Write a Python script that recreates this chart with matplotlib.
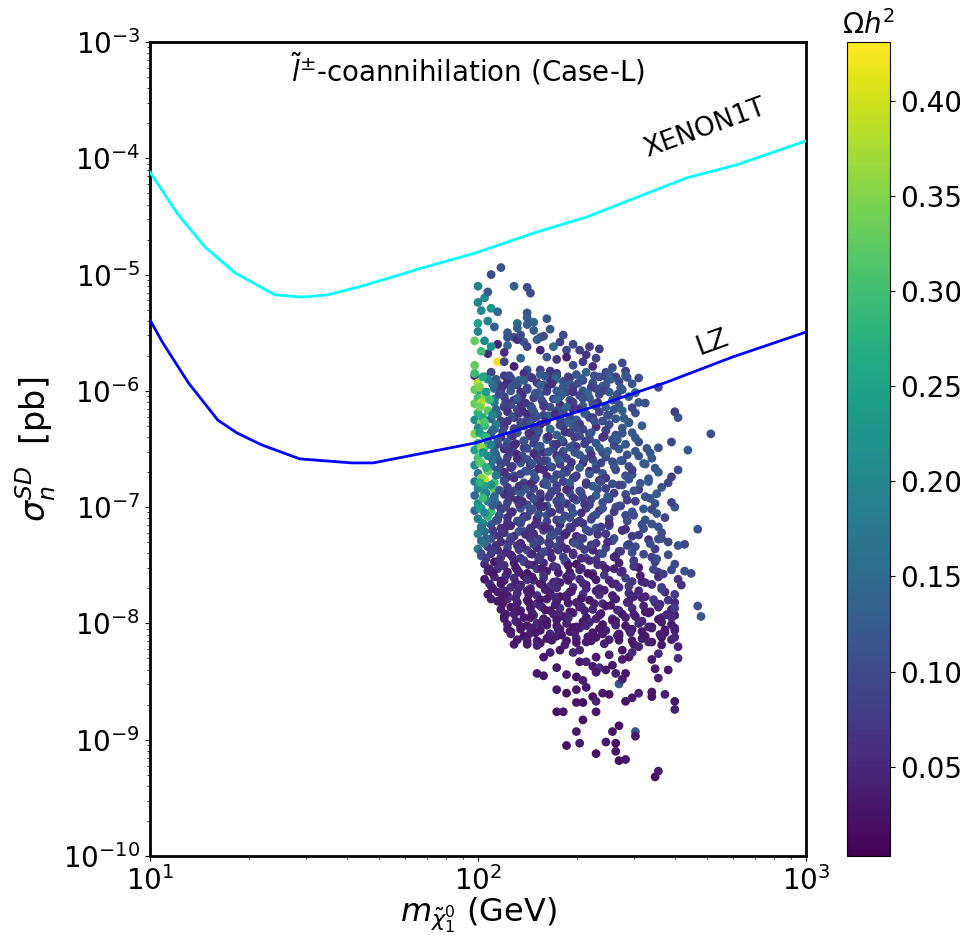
import numpy as np
import matplotlib
matplotlib.use("Agg")
import matplotlib.pyplot as plt
from matplotlib.colors import Normalize

# --- exclusion limits: mass [GeV], sigma_SD [pb] ---
xenon_mass = [10, 12.2, 14.7, 18.2, 24.0, 29.0, 34.9, 43.1, 54.7, 67.5,
              98, 151, 215, 318, 434, 616, 1000]
xenon_sigma = [7.6e-5, 3.25e-5, 1.73e-5, 1.03e-5, 6.7e-6, 6.4e-6, 6.7e-6,
               7.8e-6, 9.5e-6, 1.14e-5, 1.53e-5, 2.32e-5, 3.13e-5, 4.83e-5,
               6.8e-5, 8.8e-5, 1.41e-4]
lz_mass = [10, 10.9, 13.1, 16.1, 18.4, 21.9, 28.6, 41.3, 47.9, 98, 236,
           377, 599, 1000]
lz_sigma = [4.07e-6, 2.63e-6, 1.17e-6, 5.6e-7, 4.35e-7, 3.43e-7, 2.6e-7,
            2.4e-7, 2.4e-7, 3.56e-7, 7.6e-7, 1.19e-6, 1.96e-6, 3.2e-6]

# --- scan points, stored as log10(mass/GeV), log10(sigma/pb), Omega h^2 ---
# sparse upper part of the cloud
top_logm = [2.07, 2.04, 2.00, 2.11, 2.15, 2.16, 2.00, 2.02, 2.01, 2.04,
            2.15, 2.15, 2.12, 2.17, 2.21, 2.05, 2.00, 2.12, 2.15, 2.22,
            2.26, 2.19, 2.11, 1.99, 2.02, 2.06, 2.09, 2.14, 2.18, 2.23,
            2.31, 2.34, 2.37, 2.27, 2.03, 2.06, 1.99, 1.99, 2.44, 2.49,
            2.42, 2.39, 2.09, 2.12, 2.15, 2.19, 2.21, 2.24, 2.27, 2.29,
            2.32, 2.35, 2.39, 2.24, 2.19, 2.15, 2.11, 2.08, 2.13, 2.03,
            2.06, 2.09, 2.13, 2.17, 2.20, 2.25, 2.29, 2.33, 2.36, 2.41,
            2.45, 2.01, 2.04, 2.08, 2.00, 2.03]
top_logs = [-4.94, -5.00, -5.10, -5.10, -5.11, -5.16, -5.24, -5.20, -5.31, -5.29,
            -5.33, -5.37, -5.42, -5.41, -5.38, -5.45, -5.49, -5.46, -5.43, -5.47,
            -5.52, -5.54, -5.54, -5.57, -5.57, -5.60, -5.61, -5.58, -5.56, -5.62,
            -5.65, -5.62, -5.64, -5.65, -5.68, -5.75, -5.78, -5.87, -5.76, -5.89,
            -5.88, -5.88, -5.54, -5.56, -5.62, -5.65, -5.71, -5.73, -5.71, -5.78,
            -5.75, -5.79, -5.84, -5.85, -5.82, -5.82, -5.79, -5.75, -5.72, -5.40,
            -5.32, -5.50, -5.52, -5.48, -5.53, -5.58, -5.60, -5.69, -5.72, -5.80,
            -5.83, -5.66, -5.62, -5.67, -5.42, -5.15]
top_omega = [0.12, 0.10, 0.18, 0.13, 0.10, 0.10, 0.20, 0.21, 0.20, 0.22,
             0.12, 0.13, 0.16, 0.14, 0.12, 0.13, 0.20, 0.13, 0.13, 0.12,
             0.10, 0.14, 0.10, 0.33, 0.20, 0.05, 0.15, 0.12, 0.13, 0.15,
             0.08, 0.08, 0.08, 0.10, 0.05, 0.42, 0.33, 0.04, 0.10, 0.10,
             0.08, 0.10, 0.11, 0.06, 0.09, 0.05, 0.12, 0.07, 0.04, 0.10,
             0.08, 0.06, 0.09, 0.05, 0.08, 0.11, 0.04, 0.09, 0.14, 0.20,
             0.15, 0.12, 0.10, 0.13, 0.10, 0.09, 0.10, 0.07, 0.09, 0.10,
             0.08, 0.30, 0.22, 0.06, 0.25, 0.12]

# dense body of the cloud (main rows)
core_logm = [
    1.99, 2.02, 2.04, 2.08, 2.10, 2.14, 2.16, 2.19, 2.22, 2.24, 2.28, 2.30, 2.33, 2.37, 2.40, 2.45,
    2.00, 2.03, 2.06, 2.09, 2.12, 2.14, 2.18, 2.20, 2.22, 2.26, 2.28, 2.32, 2.35, 2.38, 2.43, 2.47,
    1.99, 2.01, 2.05, 2.07, 2.10, 2.13, 2.15, 2.18, 2.21, 2.24, 2.27, 2.29, 2.32, 2.36, 2.40, 2.44,
    2.00, 2.02, 2.05, 2.08, 2.11, 2.13, 2.17, 2.19, 2.23, 2.25, 2.28, 2.31, 2.34, 2.37, 2.42, 2.46,
    1.99, 2.01, 2.05, 2.08, 2.10, 2.13, 2.16, 2.20, 2.22, 2.25, 2.29, 2.32, 2.35, 2.39, 2.43, 2.49,
    2.00, 2.03, 2.06, 2.09, 2.12, 2.15, 2.17, 2.20, 2.24, 2.26, 2.29, 2.33, 2.37, 2.40, 2.44, 2.48,
    1.99, 2.01, 2.04, 2.07, 2.11, 2.13, 2.15, 2.18, 2.21, 2.25, 2.27, 2.30, 2.34, 2.38, 2.42, 2.46,
    2.00, 2.02, 2.05, 2.08, 2.11, 2.14, 2.17, 2.19, 2.22, 2.26, 2.29, 2.32, 2.36, 2.39, 2.44, 2.50,
    1.99, 2.02, 2.04, 2.07, 2.10, 2.12, 2.16, 2.18, 2.21, 2.24, 2.28, 2.31, 2.34, 2.38, 2.42, 2.47,
    2.00, 2.03, 2.06, 2.09, 2.11, 2.14, 2.17, 2.21, 2.23, 2.26, 2.29, 2.33, 2.36, 2.41, 2.45, 2.49,
    1.99, 2.02, 2.05, 2.08, 2.11, 2.14, 2.18, 2.20, 2.23, 2.26, 2.30, 2.34, 2.38, 2.43, 2.48, 2.55,
    2.00, 2.03, 2.06, 2.09, 2.12, 2.15, 2.18, 2.21, 2.24, 2.27, 2.31, 2.35, 2.39, 2.44, 2.49, 2.53,
    1.99, 2.01, 2.04, 2.07, 2.10, 2.13, 2.16, 2.19, 2.22, 2.25, 2.28, 2.32, 2.36, 2.41, 2.46, 2.51,
    2.00, 2.03, 2.06, 2.08, 2.11, 2.15, 2.17, 2.20, 2.24, 2.27, 2.30, 2.34, 2.38, 2.42, 2.47, 2.55,
    1.99, 2.02, 2.05, 2.08, 2.11, 2.14, 2.17, 2.20, 2.23, 2.26, 2.29, 2.33, 2.37, 2.41, 2.46, 2.52,
    2.00, 2.02, 2.05, 2.09, 2.11, 2.14, 2.17, 2.21, 2.24, 2.28, 2.31, 2.35, 2.39, 2.44, 2.49, 2.56,
    1.99, 2.02, 2.05, 2.08, 2.10, 2.13, 2.16, 2.19, 2.22, 2.25, 2.28, 2.32, 2.36, 2.40, 2.45, 2.51,
    2.00, 2.03, 2.06, 2.09, 2.12, 2.15, 2.18, 2.21, 2.24, 2.27, 2.30, 2.34, 2.38, 2.43, 2.48, 2.54,
    1.99, 2.01, 2.04, 2.07, 2.10, 2.13, 2.16, 2.19, 2.22, 2.25, 2.29, 2.33, 2.37, 2.42, 2.47, 2.53,
    2.00, 2.03, 2.06, 2.09, 2.12, 2.15, 2.18, 2.21, 2.24, 2.28, 2.31, 2.35, 2.40, 2.45, 2.51, 2.57,
    2.01, 2.04, 2.07, 2.10, 2.13, 2.16, 2.19, 2.22, 2.25, 2.28, 2.32, 2.36, 2.40, 2.45, 2.50, 2.55,
    2.00, 2.02, 2.05, 2.08, 2.11, 2.14, 2.17, 2.20, 2.23, 2.27, 2.30, 2.34, 2.39, 2.44, 2.49, 2.56,
    2.01, 2.04, 2.07, 2.10, 2.13, 2.16, 2.19, 2.22, 2.25, 2.29, 2.32, 2.36, 2.41, 2.46, 2.52, 2.58,
    2.00, 2.03, 2.06, 2.09, 2.12, 2.15, 2.18, 2.21, 2.24, 2.27, 2.31, 2.35, 2.39, 2.43, 2.48, 2.54,
    2.01, 2.04, 2.07, 2.10, 2.13, 2.16, 2.19, 2.22, 2.26, 2.29, 2.33, 2.37, 2.42, 2.47, 2.53, 2.58,
    2.02, 2.05, 2.08, 2.11, 2.14, 2.17, 2.20, 2.23, 2.27, 2.30, 2.34, 2.38, 2.43, 2.48, 2.54, 2.60,
    2.03, 2.06, 2.09, 2.12, 2.15, 2.18, 2.21, 2.24, 2.28, 2.31, 2.35, 2.39, 2.44, 2.49, 2.55, 2.59,
    2.02, 2.05, 2.08, 2.11, 2.14, 2.17, 2.20, 2.24, 2.27, 2.31, 2.35, 2.40, 2.45, 2.50, 2.55, 2.61,
    2.04, 2.07, 2.10, 2.13, 2.16, 2.19, 2.22, 2.25, 2.29, 2.33, 2.37, 2.41, 2.46, 2.51, 2.56, 2.62,
    2.03, 2.06, 2.09, 2.12, 2.15, 2.18, 2.22, 2.25, 2.28, 2.32, 2.36, 2.41, 2.46, 2.51, 2.57, 2.60,
    2.06, 2.09, 2.12, 2.15, 2.18, 2.21, 2.24, 2.27, 2.30, 2.34, 2.38, 2.42, 2.46, 2.50, 2.54, 2.58,
    2.07, 2.10, 2.13, 2.16, 2.19, 2.22, 2.25, 2.28, 2.31, 2.35, 2.39, 2.43, 2.47, 2.51, 2.55, 2.59,
    2.08, 2.11, 2.14, 2.17, 2.20, 2.23, 2.26, 2.29, 2.33, 2.37, 2.41, 2.44, 2.48, 2.52, 2.56, 2.60,
    2.09, 2.12, 2.15, 2.18, 2.21, 2.24, 2.27, 2.30, 2.34, 2.38, 2.42, 2.45, 2.49, 2.53, 2.56, 2.59,
    2.10, 2.13, 2.16, 2.19, 2.22, 2.25, 2.28, 2.31, 2.35, 2.39, 2.43, 2.46, 2.50, 2.53, 2.57, 2.60,
    2.12, 2.15, 2.18, 2.21, 2.24, 2.27, 2.30, 2.33, 2.36, 2.40, 2.43, 2.47, 2.50, 2.53, 2.56, 2.59,
]
core_logs = [
    -5.85, -5.88, -5.84, -5.87, -5.89, -5.85, -5.88, -5.86, -5.83, -5.87, -5.89, -5.86, -5.84, -5.88, -5.85, -5.87,
    -5.93, -5.90, -5.94, -5.92, -5.95, -5.91, -5.93, -5.95, -5.90, -5.92, -5.94, -5.91, -5.93, -5.96, -5.92, -5.94,
    -5.99, -6.02, -5.98, -6.00, -5.97, -6.01, -5.99, -6.02, -5.98, -6.00, -6.01, -5.97, -6.00, -5.98, -6.01, -5.99,
    -6.06, -6.04, -6.07, -6.05, -6.08, -6.04, -6.06, -6.03, -6.07, -6.05, -6.08, -6.04, -6.06, -6.03, -6.07, -6.05,
    -6.11, -6.13, -6.10, -6.14, -6.12, -6.10, -6.13, -6.11, -6.14, -6.12, -6.10, -6.13, -6.11, -6.14, -6.12, -6.10,
    -6.19, -6.17, -6.20, -6.18, -6.16, -6.20, -6.18, -6.21, -6.17, -6.19, -6.16, -6.20, -6.18, -6.21, -6.17, -6.19,
    -6.25, -6.27, -6.24, -6.26, -6.23, -6.27, -6.25, -6.22, -6.26, -6.24, -6.27, -6.25, -6.23, -6.26, -6.24, -6.27,
    -6.32, -6.30, -6.33, -6.31, -6.34, -6.30, -6.32, -6.29, -6.33, -6.31, -6.30, -6.33, -6.31, -6.34, -6.32, -6.30,
    -6.37, -6.39, -6.36, -6.40, -6.38, -6.36, -6.39, -6.37, -6.40, -6.38, -6.36, -6.39, -6.37, -6.40, -6.38, -6.36,
    -6.45, -6.43, -6.46, -6.44, -6.47, -6.43, -6.45, -6.42, -6.46, -6.44, -6.47, -6.43, -6.45, -6.42, -6.46, -6.44,
    -6.51, -6.49, -6.52, -6.50, -6.53, -6.49, -6.51, -6.53, -6.50, -6.52, -6.48, -6.51, -6.53, -6.50, -6.52, -6.49,
    -6.58, -6.56, -6.59, -6.57, -6.55, -6.59, -6.57, -6.60, -6.56, -6.58, -6.55, -6.59, -6.57, -6.60, -6.56, -6.58,
    -6.64, -6.62, -6.65, -6.63, -6.66, -6.62, -6.64, -6.61, -6.65, -6.63, -6.66, -6.62, -6.64, -6.61, -6.65, -6.63,
    -6.71, -6.69, -6.72, -6.70, -6.73, -6.69, -6.71, -6.68, -6.72, -6.70, -6.73, -6.69, -6.71, -6.68, -6.72, -6.70,
    -6.78, -6.76, -6.79, -6.77, -6.75, -6.79, -6.77, -6.80, -6.76, -6.78, -6.75, -6.79, -6.77, -6.80, -6.76, -6.78,
    -6.84, -6.82, -6.85, -6.83, -6.86, -6.82, -6.84, -6.81, -6.85, -6.83, -6.86, -6.82, -6.84, -6.81, -6.85, -6.83,
    -6.90, -6.88, -6.91, -6.89, -6.92, -6.88, -6.90, -6.93, -6.89, -6.91, -6.88, -6.92, -6.90, -6.93, -6.89, -6.91,
    -6.97, -6.95, -6.98, -6.96, -6.94, -6.98, -6.96, -6.99, -6.95, -6.97, -6.94, -6.98, -6.96, -6.99, -6.95, -6.97,
    -7.03, -7.01, -7.04, -7.02, -7.05, -7.01, -7.03, -7.00, -7.04, -7.02, -7.05, -7.01, -7.03, -7.00, -7.04, -7.02,
    -7.10, -7.08, -7.11, -7.09, -7.12, -7.08, -7.10, -7.07, -7.11, -7.09, -7.12, -7.08, -7.10, -7.07, -7.11, -7.09,
    -7.17, -7.15, -7.18, -7.16, -7.14, -7.18, -7.16, -7.19, -7.15, -7.17, -7.14, -7.18, -7.16, -7.19, -7.15, -7.17,
    -7.23, -7.21, -7.24, -7.22, -7.25, -7.21, -7.23, -7.20, -7.24, -7.22, -7.25, -7.21, -7.23, -7.20, -7.24, -7.22,
    -7.29, -7.27, -7.30, -7.28, -7.31, -7.27, -7.29, -7.32, -7.28, -7.30, -7.27, -7.31, -7.29, -7.32, -7.28, -7.30,
    -7.36, -7.34, -7.37, -7.35, -7.33, -7.37, -7.35, -7.38, -7.34, -7.36, -7.33, -7.37, -7.35, -7.38, -7.34, -7.36,
    -7.42, -7.40, -7.43, -7.41, -7.44, -7.40, -7.42, -7.39, -7.43, -7.41, -7.44, -7.40, -7.42, -7.39, -7.43, -7.41,
    -7.49, -7.47, -7.50, -7.48, -7.46, -7.50, -7.48, -7.51, -7.47, -7.49, -7.46, -7.50, -7.48, -7.51, -7.47, -7.49,
    -7.55, -7.53, -7.56, -7.54, -7.57, -7.53, -7.55, -7.52, -7.56, -7.54, -7.57, -7.53, -7.55, -7.52, -7.56, -7.54,
    -7.62, -7.60, -7.63, -7.61, -7.59, -7.63, -7.61, -7.64, -7.60, -7.62, -7.59, -7.63, -7.61, -7.64, -7.60, -7.62,
    -7.68, -7.66, -7.69, -7.67, -7.70, -7.66, -7.68, -7.65, -7.69, -7.67, -7.70, -7.66, -7.68, -7.65, -7.69, -7.67,
    -7.75, -7.73, -7.76, -7.74, -7.72, -7.76, -7.74, -7.77, -7.73, -7.75, -7.72, -7.76, -7.74, -7.77, -7.73, -7.75,
    -7.81, -7.79, -7.82, -7.80, -7.83, -7.79, -7.81, -7.78, -7.82, -7.80, -7.83, -7.79, -7.81, -7.78, -7.82, -7.80,
    -7.88, -7.86, -7.89, -7.87, -7.85, -7.89, -7.87, -7.90, -7.86, -7.88, -7.85, -7.89, -7.87, -7.90, -7.86, -7.88,
    -7.94, -7.92, -7.95, -7.93, -7.96, -7.92, -7.94, -7.91, -7.95, -7.93, -7.96, -7.92, -7.94, -7.91, -7.95, -7.93,
    -8.01, -7.99, -8.02, -8.00, -7.98, -8.02, -8.00, -8.03, -7.99, -8.01, -7.98, -8.02, -8.00, -8.03, -7.99, -8.01,
    -8.07, -8.05, -8.08, -8.06, -8.09, -8.05, -8.07, -8.04, -8.08, -8.06, -8.09, -8.05, -8.07, -8.04, -8.08, -8.06,
    -8.14, -8.12, -8.15, -8.13, -8.11, -8.15, -8.13, -8.16, -8.12, -8.14, -8.11, -8.15, -8.13, -8.16, -8.12, -8.14,
]
core_omega = [
    0.30, 0.14, 0.09, 0.08, 0.12, 0.06, 0.10, 0.13, 0.07, 0.11, 0.09, 0.12, 0.14, 0.10, 0.12, 0.12,
    0.38, 0.20, 0.11, 0.06, 0.09, 0.14, 0.08, 0.11, 0.05, 0.10, 0.13, 0.09, 0.11, 0.13, 0.10, 0.12,
    0.33, 0.25, 0.14, 0.08, 0.11, 0.06, 0.12, 0.09, 0.05, 0.13, 0.10, 0.08, 0.12, 0.10, 0.13, 0.11,
    0.30, 0.35, 0.17, 0.09, 0.06, 0.11, 0.08, 0.13, 0.09, 0.05, 0.11, 0.09, 0.13, 0.10, 0.12, 0.13,
    0.33, 0.43, 0.18, 0.08, 0.10, 0.06, 0.12, 0.08, 0.11, 0.06, 0.09, 0.12, 0.10, 0.13, 0.11, 0.12,
    0.28, 0.32, 0.13, 0.06, 0.09, 0.05, 0.11, 0.08, 0.13, 0.09, 0.06, 0.11, 0.09, 0.12, 0.13, 0.10,
    0.22, 0.36, 0.14, 0.09, 0.06, 0.10, 0.08, 0.12, 0.06, 0.10, 0.08, 0.13, 0.09, 0.11, 0.12, 0.11,
    0.20, 0.28, 0.16, 0.08, 0.11, 0.06, 0.09, 0.05, 0.11, 0.08, 0.12, 0.09, 0.06, 0.11, 0.12, 0.13,
    0.35, 0.22, 0.12, 0.06, 0.09, 0.12, 0.08, 0.05, 0.10, 0.13, 0.08, 0.11, 0.09, 0.06, 0.11, 0.12,
    0.30, 0.18, 0.09, 0.12, 0.06, 0.10, 0.08, 0.13, 0.09, 0.05, 0.11, 0.08, 0.12, 0.10, 0.12, 0.10,
    0.25, 0.30, 0.14, 0.06, 0.10, 0.08, 0.12, 0.06, 0.09, 0.11, 0.08, 0.13, 0.10, 0.12, 0.12, 0.11,
    0.30, 0.20, 0.11, 0.08, 0.05, 0.10, 0.08, 0.12, 0.06, 0.09, 0.13, 0.09, 0.11, 0.08, 0.11, 0.12,
    0.20, 0.32, 0.15, 0.09, 0.06, 0.11, 0.05, 0.09, 0.12, 0.08, 0.10, 0.06, 0.13, 0.10, 0.10, 0.12,
    0.17, 0.33, 0.12, 0.06, 0.10, 0.08, 0.12, 0.06, 0.09, 0.11, 0.08, 0.05, 0.12, 0.09, 0.12, 0.13,
    0.17, 0.40, 0.30, 0.09, 0.06, 0.10, 0.08, 0.05, 0.11, 0.08, 0.13, 0.09, 0.06, 0.11, 0.11, 0.12,
    0.20, 0.25, 0.33, 0.08, 0.11, 0.06, 0.09, 0.12, 0.08, 0.05, 0.10, 0.13, 0.09, 0.11, 0.08, 0.11,
    0.15, 0.25, 0.14, 0.06, 0.09, 0.12, 0.08, 0.05, 0.10, 0.08, 0.11, 0.09, 0.13, 0.08, 0.10, 0.12,
    0.22, 0.20, 0.10, 0.08, 0.05, 0.10, 0.06, 0.12, 0.09, 0.06, 0.11, 0.08, 0.10, 0.12, 0.08, 0.11,
    0.15, 0.22, 0.30, 0.08, 0.06, 0.11, 0.08, 0.05, 0.10, 0.08, 0.12, 0.09, 0.06, 0.10, 0.12, 0.09,
    0.18, 0.28, 0.08, 0.06, 0.10, 0.08, 0.05, 0.11, 0.08, 0.10, 0.06, 0.12, 0.09, 0.10, 0.12, 0.09,
    0.16, 0.12, 0.07, 0.05, 0.09, 0.06, 0.10, 0.07, 0.05, 0.10, 0.07, 0.11, 0.08, 0.06, 0.10, 0.11,
    0.20, 0.16, 0.11, 0.07, 0.05, 0.09, 0.06, 0.08, 0.11, 0.07, 0.05, 0.09, 0.07, 0.10, 0.08, 0.10,
    0.15, 0.10, 0.06, 0.08, 0.05, 0.07, 0.10, 0.06, 0.08, 0.05, 0.09, 0.07, 0.10, 0.08, 0.06, 0.09,
    0.18, 0.07, 0.05, 0.09, 0.06, 0.08, 0.05, 0.07, 0.10, 0.06, 0.08, 0.05, 0.09, 0.07, 0.10, 0.08,
    0.12, 0.06, 0.08, 0.05, 0.07, 0.10, 0.06, 0.05, 0.08, 0.06, 0.09, 0.07, 0.05, 0.10, 0.08, 0.10,
    0.05, 0.03, 0.06, 0.04, 0.07, 0.03, 0.05, 0.04, 0.08, 0.03, 0.05, 0.07, 0.04, 0.06, 0.08, 0.10,
    0.04, 0.06, 0.03, 0.05, 0.03, 0.07, 0.04, 0.06, 0.03, 0.05, 0.08, 0.04, 0.06, 0.03, 0.07, 0.09,
    0.03, 0.05, 0.04, 0.06, 0.03, 0.05, 0.07, 0.03, 0.04, 0.06, 0.03, 0.05, 0.08, 0.04, 0.06, 0.07,
    0.04, 0.03, 0.06, 0.04, 0.05, 0.03, 0.07, 0.04, 0.06, 0.03, 0.05, 0.04, 0.07, 0.05, 0.08, 0.06,
    0.03, 0.04, 0.03, 0.05, 0.03, 0.06, 0.04, 0.03, 0.05, 0.07, 0.04, 0.03, 0.06, 0.04, 0.05, 0.08,
    0.03, 0.05, 0.03, 0.04, 0.06, 0.03, 0.04, 0.03, 0.05, 0.03, 0.06, 0.04, 0.03, 0.05, 0.04, 0.07,
    0.04, 0.03, 0.05, 0.03, 0.04, 0.03, 0.06, 0.04, 0.03, 0.05, 0.03, 0.04, 0.06, 0.03, 0.05, 0.04,
    0.03, 0.04, 0.03, 0.05, 0.03, 0.04, 0.03, 0.05, 0.03, 0.04, 0.06, 0.03, 0.04, 0.03, 0.05, 0.04,
    0.03, 0.04, 0.03, 0.05, 0.03, 0.03, 0.04, 0.03, 0.05, 0.03, 0.04, 0.03, 0.05, 0.03, 0.04, 0.03,
    0.03, 0.03, 0.04, 0.03, 0.05, 0.03, 0.03, 0.04, 0.03, 0.04, 0.03, 0.05, 0.03, 0.04, 0.03, 0.04,
    0.03, 0.04, 0.03, 0.03, 0.04, 0.03, 0.05, 0.03, 0.03, 0.04, 0.03, 0.03, 0.04, 0.03, 0.03, 0.04,
]

# dense body of the cloud (points lying between the main rows)
fill_logm = [
    2.015, 2.055, 2.095, 2.125, 2.165, 2.205, 2.235, 2.275, 2.315, 2.355, 2.405, 2.455,
    2.005, 2.045, 2.075, 2.115, 2.150, 2.190, 2.225, 2.260, 2.305, 2.345, 2.390, 2.435,
    2.025, 2.065, 2.100, 2.135, 2.175, 2.210, 2.255, 2.290, 2.335, 2.380, 2.425, 2.480,
    2.010, 2.035, 2.085, 2.120, 2.145, 2.195, 2.240, 2.285, 2.320, 2.365, 2.410, 2.510,
    2.005, 2.055, 2.080, 2.135, 2.165, 2.200, 2.245, 2.270, 2.305, 2.360, 2.415, 2.470,
    2.015, 2.045, 2.105, 2.125, 2.170, 2.215, 2.235, 2.280, 2.325, 2.350, 2.395, 2.445,
    2.020, 2.055, 2.090, 2.130, 2.160, 2.205, 2.250, 2.275, 2.310, 2.355, 2.400, 2.460,
    2.005, 2.045, 2.075, 2.110, 2.155, 2.185, 2.220, 2.265, 2.300, 2.345, 2.390, 2.440,
    2.025, 2.060, 2.105, 2.140, 2.175, 2.215, 2.255, 2.295, 2.340, 2.385, 2.425, 2.480,
    2.010, 2.040, 2.085, 2.115, 2.150, 2.190, 2.240, 2.280, 2.325, 2.370, 2.415, 2.515,
    2.015, 2.055, 2.095, 2.135, 2.170, 2.215, 2.250, 2.295, 2.345, 2.395, 2.455, 2.525,
    2.005, 2.045, 2.085, 2.120, 2.165, 2.200, 2.245, 2.285, 2.325, 2.375, 2.435, 2.505,
    2.025, 2.060, 2.105, 2.145, 2.185, 2.225, 2.265, 2.310, 2.360, 2.415, 2.470, 2.540,
    2.010, 2.055, 2.090, 2.130, 2.175, 2.210, 2.255, 2.295, 2.340, 2.390, 2.450, 2.520,
    2.005, 2.040, 2.080, 2.125, 2.160, 2.205, 2.240, 2.280, 2.330, 2.375, 2.430, 2.495,
    2.025, 2.065, 2.100, 2.145, 2.190, 2.225, 2.270, 2.315, 2.365, 2.415, 2.475, 2.545,
    2.015, 2.050, 2.095, 2.135, 2.170, 2.215, 2.255, 2.290, 2.345, 2.395, 2.455, 2.525,
    2.005, 2.045, 2.085, 2.125, 2.165, 2.200, 2.245, 2.285, 2.325, 2.380, 2.435, 2.505,
    2.020, 2.065, 2.105, 2.140, 2.185, 2.225, 2.265, 2.315, 2.360, 2.415, 2.475, 2.545,
    2.015, 2.055, 2.090, 2.135, 2.175, 2.210, 2.255, 2.300, 2.345, 2.400, 2.455, 2.530,
    2.010, 2.045, 2.085, 2.125, 2.160, 2.205, 2.245, 2.285, 2.330, 2.375, 2.440, 2.505,
    2.025, 2.065, 2.100, 2.145, 2.185, 2.220, 2.265, 2.310, 2.365, 2.415, 2.470, 2.550,
    2.020, 2.055, 2.095, 2.135, 2.170, 2.215, 2.255, 2.295, 2.345, 2.395, 2.455, 2.525,
    2.010, 2.045, 2.085, 2.125, 2.165, 2.200, 2.245, 2.290, 2.325, 2.380, 2.435, 2.505,
    2.025, 2.065, 2.105, 2.140, 2.185, 2.225, 2.265, 2.315, 2.360, 2.415, 2.475, 2.545,
    2.035, 2.075, 2.115, 2.155, 2.195, 2.235, 2.275, 2.315, 2.365, 2.415, 2.475, 2.535,
    2.045, 2.085, 2.125, 2.165, 2.200, 2.245, 2.285, 2.335, 2.385, 2.435, 2.495, 2.565,
    2.035, 2.070, 2.115, 2.150, 2.195, 2.230, 2.275, 2.320, 2.360, 2.420, 2.470, 2.530,
    2.045, 2.080, 2.125, 2.160, 2.205, 2.240, 2.285, 2.330, 2.385, 2.430, 2.490, 2.560,
    2.040, 2.075, 2.115, 2.155, 2.190, 2.235, 2.270, 2.315, 2.370, 2.415, 2.475, 2.535,
    2.075, 2.115, 2.155, 2.195, 2.235, 2.275, 2.315, 2.355, 2.405, 2.455, 2.505, 2.555,
    2.085, 2.125, 2.165, 2.205, 2.245, 2.285, 2.325, 2.375, 2.425, 2.475, 2.525, 2.575,
    2.080, 2.115, 2.160, 2.195, 2.240, 2.275, 2.320, 2.360, 2.410, 2.450, 2.500, 2.550,
    2.090, 2.130, 2.165, 2.210, 2.245, 2.290, 2.330, 2.370, 2.420, 2.470, 2.520, 2.570,
    2.100, 2.140, 2.175, 2.215, 2.255, 2.295, 2.335, 2.380, 2.425, 2.465, 2.510, 2.555,
    2.110, 2.150, 2.190, 2.225, 2.265, 2.300, 2.345, 2.385, 2.430, 2.475, 2.520, 2.560,
]
fill_logs = [
    -5.88, -5.90, -5.87, -5.91, -5.89, -5.875, -5.905, -5.88, -5.895, -5.87, -5.90, -5.885,
    -5.97, -5.945, -5.96, -5.935, -5.975, -5.955, -5.94, -5.965, -5.935, -5.97, -5.95, -5.975,
    -6.01, -6.03, -6.00, -6.04, -6.02, -6.005, -6.035, -6.01, -6.025, -6.00, -6.03, -6.015,
    -6.10, -6.075, -6.09, -6.065, -6.105, -6.085, -6.07, -6.095, -6.065, -6.10, -6.08, -6.105,
    -6.14, -6.16, -6.13, -6.17, -6.15, -6.135, -6.165, -6.14, -6.155, -6.13, -6.16, -6.145,
    -6.23, -6.205, -6.22, -6.195, -6.235, -6.215, -6.20, -6.225, -6.195, -6.23, -6.21, -6.235,
    -6.27, -6.29, -6.26, -6.30, -6.28, -6.265, -6.295, -6.27, -6.285, -6.26, -6.29, -6.275,
    -6.36, -6.335, -6.35, -6.325, -6.365, -6.345, -6.33, -6.355, -6.325, -6.36, -6.34, -6.365,
    -6.40, -6.42, -6.39, -6.43, -6.41, -6.395, -6.425, -6.40, -6.415, -6.39, -6.42, -6.405,
    -6.49, -6.465, -6.48, -6.455, -6.495, -6.475, -6.46, -6.485, -6.455, -6.49, -6.47, -6.495,
    -6.53, -6.55, -6.52, -6.56, -6.54, -6.525, -6.555, -6.53, -6.545, -6.52, -6.55, -6.535,
    -6.62, -6.595, -6.61, -6.585, -6.625, -6.605, -6.59, -6.615, -6.585, -6.62, -6.60, -6.625,
    -6.66, -6.68, -6.65, -6.69, -6.67, -6.655, -6.685, -6.66, -6.675, -6.65, -6.68, -6.665,
    -6.75, -6.725, -6.74, -6.715, -6.755, -6.735, -6.72, -6.745, -6.715, -6.75, -6.73, -6.755,
    -6.79, -6.81, -6.78, -6.82, -6.80, -6.785, -6.815, -6.79, -6.805, -6.78, -6.81, -6.795,
    -6.88, -6.855, -6.87, -6.845, -6.885, -6.865, -6.85, -6.875, -6.845, -6.88, -6.86, -6.885,
    -6.92, -6.94, -6.91, -6.95, -6.93, -6.915, -6.945, -6.92, -6.935, -6.91, -6.94, -6.925,
    -7.01, -6.985, -7.00, -6.975, -7.015, -6.995, -6.98, -7.005, -6.975, -7.01, -6.99, -7.015,
    -7.05, -7.07, -7.04, -7.08, -7.06, -7.045, -7.075, -7.05, -7.065, -7.04, -7.07, -7.055,
    -7.14, -7.115, -7.13, -7.105, -7.145, -7.125, -7.11, -7.135, -7.105, -7.14, -7.12, -7.145,
    -7.18, -7.20, -7.17, -7.21, -7.19, -7.175, -7.205, -7.18, -7.195, -7.17, -7.20, -7.185,
    -7.27, -7.245, -7.26, -7.235, -7.275, -7.255, -7.24, -7.265, -7.235, -7.27, -7.25, -7.275,
    -7.31, -7.33, -7.30, -7.34, -7.32, -7.305, -7.335, -7.31, -7.325, -7.30, -7.33, -7.315,
    -7.40, -7.375, -7.39, -7.365, -7.405, -7.385, -7.37, -7.395, -7.365, -7.40, -7.38, -7.405,
    -7.44, -7.46, -7.43, -7.47, -7.45, -7.435, -7.465, -7.44, -7.455, -7.43, -7.46, -7.445,
    -7.53, -7.505, -7.52, -7.495, -7.535, -7.515, -7.50, -7.525, -7.495, -7.53, -7.51, -7.535,
    -7.57, -7.59, -7.56, -7.60, -7.58, -7.565, -7.595, -7.57, -7.585, -7.56, -7.59, -7.575,
    -7.66, -7.635, -7.65, -7.625, -7.665, -7.645, -7.63, -7.655, -7.625, -7.66, -7.64, -7.665,
    -7.70, -7.72, -7.69, -7.73, -7.71, -7.695, -7.725, -7.70, -7.715, -7.69, -7.72, -7.705,
    -7.79, -7.765, -7.78, -7.755, -7.795, -7.775, -7.76, -7.785, -7.755, -7.79, -7.77, -7.795,
    -7.83, -7.85, -7.82, -7.86, -7.84, -7.825, -7.855, -7.83, -7.845, -7.82, -7.85, -7.835,
    -7.92, -7.895, -7.91, -7.885, -7.925, -7.905, -7.89, -7.915, -7.885, -7.92, -7.90, -7.925,
    -7.96, -7.98, -7.95, -7.99, -7.97, -7.955, -7.985, -7.96, -7.975, -7.95, -7.98, -7.965,
    -8.05, -8.025, -8.04, -8.015, -8.055, -8.035, -8.02, -8.045, -8.015, -8.05, -8.03, -8.055,
    -8.09, -8.11, -8.08, -8.12, -8.10, -8.085, -8.115, -8.09, -8.105, -8.08, -8.11, -8.095,
    -8.18, -8.155, -8.17, -8.145, -8.185, -8.165, -8.15, -8.175, -8.145, -8.18, -8.16, -8.185,
]
fill_omega = [
    0.26, 0.12, 0.09, 0.14, 0.07, 0.11, 0.15, 0.08, 0.12, 0.10, 0.13, 0.11,
    0.35, 0.16, 0.07, 0.11, 0.09, 0.14, 0.06, 0.12, 0.10, 0.08, 0.11, 0.12,
    0.24, 0.10, 0.12, 0.06, 0.11, 0.08, 0.13, 0.07, 0.14, 0.09, 0.11, 0.13,
    0.38, 0.30, 0.08, 0.12, 0.07, 0.10, 0.14, 0.08, 0.11, 0.07, 0.12, 0.11,
    0.34, 0.14, 0.09, 0.06, 0.12, 0.08, 0.11, 0.14, 0.07, 0.10, 0.12, 0.09,
    0.27, 0.20, 0.11, 0.07, 0.09, 0.13, 0.06, 0.10, 0.12, 0.08, 0.11, 0.13,
    0.31, 0.18, 0.07, 0.10, 0.12, 0.06, 0.09, 0.13, 0.08, 0.11, 0.10, 0.12,
    0.24, 0.14, 0.10, 0.08, 0.06, 0.11, 0.14, 0.07, 0.10, 0.12, 0.09, 0.11,
    0.29, 0.12, 0.07, 0.11, 0.09, 0.06, 0.12, 0.08, 0.10, 0.07, 0.13, 0.12,
    0.36, 0.19, 0.09, 0.06, 0.10, 0.12, 0.07, 0.11, 0.08, 0.13, 0.10, 0.12,
    0.22, 0.14, 0.07, 0.10, 0.06, 0.12, 0.08, 0.11, 0.07, 0.13, 0.10, 0.12,
    0.32, 0.16, 0.09, 0.06, 0.11, 0.08, 0.12, 0.07, 0.10, 0.09, 0.12, 0.13,
    0.27, 0.11, 0.08, 0.12, 0.06, 0.10, 0.07, 0.13, 0.09, 0.11, 0.08, 0.12,
    0.35, 0.18, 0.07, 0.09, 0.11, 0.06, 0.10, 0.08, 0.12, 0.07, 0.11, 0.12,
    0.28, 0.22, 0.10, 0.07, 0.06, 0.11, 0.08, 0.12, 0.07, 0.10, 0.09, 0.12,
    0.19, 0.12, 0.08, 0.11, 0.07, 0.09, 0.06, 0.10, 0.12, 0.08, 0.11, 0.13,
    0.30, 0.15, 0.07, 0.06, 0.10, 0.08, 0.11, 0.07, 0.09, 0.12, 0.08, 0.11,
    0.24, 0.13, 0.09, 0.07, 0.11, 0.06, 0.08, 0.10, 0.07, 0.11, 0.09, 0.12,
    0.20, 0.11, 0.06, 0.08, 0.10, 0.07, 0.09, 0.06, 0.11, 0.08, 0.10, 0.12,
    0.21, 0.10, 0.07, 0.09, 0.06, 0.08, 0.11, 0.07, 0.09, 0.06, 0.10, 0.11,
    0.17, 0.08, 0.06, 0.10, 0.07, 0.05, 0.09, 0.07, 0.10, 0.08, 0.06, 0.10,
    0.14, 0.07, 0.09, 0.06, 0.08, 0.10, 0.05, 0.08, 0.07, 0.10, 0.08, 0.10,
    0.16, 0.06, 0.08, 0.05, 0.09, 0.07, 0.06, 0.10, 0.08, 0.06, 0.09, 0.10,
    0.10, 0.08, 0.06, 0.07, 0.05, 0.09, 0.07, 0.06, 0.08, 0.10, 0.07, 0.09,
    0.08, 0.06, 0.05, 0.08, 0.07, 0.05, 0.09, 0.06, 0.07, 0.05, 0.08, 0.10,
    0.04, 0.06, 0.03, 0.05, 0.04, 0.07, 0.03, 0.05, 0.06, 0.04, 0.07, 0.09,
    0.03, 0.05, 0.04, 0.03, 0.06, 0.04, 0.05, 0.03, 0.07, 0.05, 0.04, 0.08,
    0.05, 0.03, 0.04, 0.06, 0.03, 0.05, 0.04, 0.06, 0.03, 0.05, 0.07, 0.06,
    0.03, 0.04, 0.05, 0.03, 0.04, 0.06, 0.03, 0.05, 0.04, 0.06, 0.05, 0.08,
    0.04, 0.03, 0.05, 0.04, 0.03, 0.05, 0.04, 0.03, 0.06, 0.04, 0.05, 0.07,
    0.03, 0.04, 0.03, 0.05, 0.04, 0.03, 0.05, 0.04, 0.03, 0.05, 0.04, 0.06,
    0.04, 0.03, 0.04, 0.03, 0.05, 0.03, 0.04, 0.03, 0.05, 0.04, 0.03, 0.05,
    0.03, 0.04, 0.03, 0.04, 0.03, 0.05, 0.03, 0.04, 0.03, 0.04, 0.05, 0.03,
    0.03, 0.03, 0.04, 0.03, 0.04, 0.03, 0.05, 0.03, 0.04, 0.03, 0.04, 0.03,
    0.04, 0.03, 0.03, 0.04, 0.03, 0.04, 0.03, 0.03, 0.04, 0.05, 0.03, 0.04,
    0.03, 0.04, 0.03, 0.03, 0.04, 0.03, 0.03, 0.04, 0.03, 0.03, 0.04, 0.03,
]

# low-sigma tail
tail_logm = [2.15, 2.18, 2.20, 2.18, 2.20, 2.24, 2.24, 2.27, 2.30, 2.24,
             2.26, 2.30, 2.32, 2.36, 2.32, 2.30, 2.27, 2.31, 2.36, 2.39,
             2.42, 2.42, 2.43, 2.45, 2.41, 2.43, 2.48, 2.48, 2.45, 2.47,
             2.49, 2.53, 2.53, 2.57, 2.60, 2.60, 2.58, 2.55, 2.54, 2.55,
             2.53, 2.61, 2.61, 2.54, 2.55, 2.43, 2.44, 2.45, 2.33, 2.35,
             2.36, 2.38, 2.40, 2.22, 2.25, 2.29, 2.31, 2.33, 2.35, 2.37,
             2.41, 2.44, 2.46, 2.47, 2.49, 2.44, 2.40, 2.36, 2.31, 2.27,
             2.30, 2.32, 2.36, 2.39, 2.42]
tail_logs = [-8.18, -8.19, -8.29, -8.43, -8.45, -8.38, -8.57, -8.60, -8.57, -8.76,
             -8.76, -8.68, -8.68, -8.76, -8.83, -8.93, -9.05, -9.03, -9.12, -9.02,
             -9.03, -9.10, -9.18, -9.17, -8.93, -8.88, -8.93, -8.97, -8.67, -8.64,
             -8.60, -8.59, -8.63, -8.61, -8.67, -8.74, -8.40, -8.47, -8.39, -8.26,
             -8.31, -8.30, -8.20, -9.32, -9.27, -8.52, -8.48, -8.43, -8.55, -8.63,
             -8.67, -8.60, -8.61, -8.25, -8.23, -8.25, -8.33, -8.33, -8.37, -8.38,
             -8.36, -8.31, -8.29, -8.25, -8.20, -8.23, -8.27, -8.29, -8.23, -8.44,
             -8.46, -8.49, -8.42, -8.40, -8.43]
tail_omega = [0.03, 0.04, 0.03, 0.03, 0.02, 0.03, 0.03, 0.02, 0.03, 0.02,
              0.03, 0.03, 0.02, 0.03, 0.02, 0.03, 0.02, 0.03, 0.02, 0.03,
              0.02, 0.03, 0.02, 0.03, 0.03, 0.02, 0.12, 0.03, 0.02, 0.03,
              0.04, 0.03, 0.02, 0.04, 0.03, 0.04, 0.03, 0.04, 0.03, 0.05,
              0.03, 0.06, 0.04, 0.02, 0.03, 0.11, 0.04, 0.03, 0.03, 0.02,
              0.04, 0.03, 0.02, 0.04, 0.03, 0.05, 0.03, 0.04, 0.03, 0.06,
              0.03, 0.04, 0.03, 0.05, 0.04, 0.03, 0.04, 0.03, 0.05, 0.03,
              0.02, 0.04, 0.03, 0.03, 0.04]

# scattered points on the heavy side
edge_logm = [2.60, 2.60, 2.67, 2.68, 2.59, 2.60, 2.60, 2.63, 2.65, 2.63,
             2.61, 2.71, 2.64, 2.59, 2.61, 2.59, 2.58, 2.67, 2.56, 2.60,
             2.59, 2.55, 2.60, 2.61]
edge_logs = [-7.82, -7.87, -7.85, -7.94, -7.95, -8.04, -8.12, -7.55, -7.57, -7.32,
             -7.33, -6.37, -6.51, -6.44, -6.68, -6.74, -6.79, -7.19, -7.27, -7.00,
             -6.96, -5.97, -6.18, -6.23]
edge_omega = [0.05, 0.08, 0.10, 0.12, 0.06, 0.04, 0.05, 0.12, 0.10, 0.09,
              0.11, 0.10, 0.12, 0.09, 0.10, 0.08, 0.09, 0.11, 0.10, 0.12,
              0.09, 0.10, 0.08, 0.11]

OMEGA_MIN, OMEGA_MAX = 0.003, 0.431

log_mass = np.concatenate([top_logm, core_logm, fill_logm, tail_logm, edge_logm])
log_sigma = np.concatenate([top_logs, core_logs, fill_logs, tail_logs, edge_logs])
omega = np.concatenate([top_omega, core_omega, fill_omega, tail_omega, edge_omega])
assert len(log_mass) == len(log_sigma) == len(omega)

mass = 10 ** log_mass
sigma = 10 ** log_sigma

fig = plt.figure(figsize=(9.6, 9.39), dpi=100)
ax = fig.add_axes([0.15625, 0.0884, 0.6833, 0.8669])
cax = fig.add_axes([0.8823, 0.0884, 0.0448, 0.8669])

sc = ax.scatter(mass, sigma, c=omega, cmap="viridis", s=40, linewidths=0,
                norm=Normalize(OMEGA_MIN, OMEGA_MAX), zorder=2)
ax.plot(xenon_mass, xenon_sigma, color="cyan", lw=2, zorder=3)
ax.plot(lz_mass, lz_sigma, color="blue", lw=2, zorder=3)

ax.set_xscale("log")
ax.set_yscale("log")
ax.set_xlim(10, 1000)
ax.set_ylim(1e-10, 1e-3)
ax.tick_params(labelsize=20)
for sp in ax.spines.values():
    sp.set_linewidth(2)

ax.set_xlabel(r"$m_{\tilde{\chi}_1^0}$ (GeV)", fontsize=23)
ax.xaxis.set_label_coords(0.5, -0.048)
ax.set_ylabel(r"$\sigma_n^{SD}$  [pb]", fontsize=24)

ax.text(0.485, 0.966, r"$\tilde{l}^{\pm}$-coannihilation (Case-L)",
        transform=ax.transAxes, ha="center", va="center", fontsize=20)
ax.text(0.846, 0.894, "XENON1T", transform=ax.transAxes, ha="center",
        va="center", fontsize=19, rotation=20)
ax.text(0.858, 0.631, "LZ", transform=ax.transAxes, ha="center",
        va="center", fontsize=19, rotation=20)

cb = fig.colorbar(sc, cax=cax)
cb.set_ticks([0.05, 0.10, 0.15, 0.20, 0.25, 0.30, 0.35, 0.40])
cb.ax.tick_params(labelsize=20)
cb.ax.set_title(r"$\Omega h^2$", fontsize=20)

fig.savefig("out.png", dpi=100)
